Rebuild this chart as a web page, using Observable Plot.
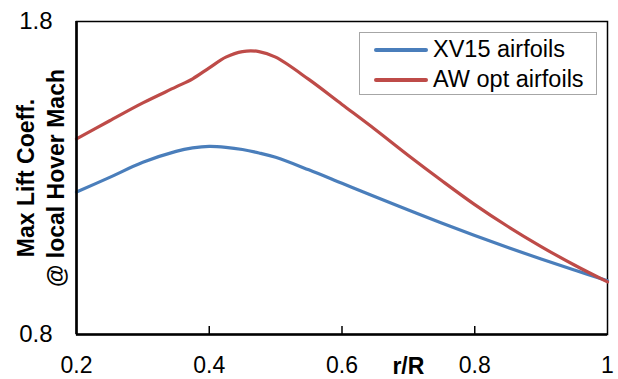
<!DOCTYPE html>
<html>
<head>
<meta charset="utf-8">
<script src="https://cdn.jsdelivr.net/npm/d3@7"></script>
<script src="https://cdn.jsdelivr.net/npm/@observablehq/plot@0.6"></script>
<style>
  html, body { margin: 0; padding: 0; background: #fff; }
  #wrap { position: relative; width: 618px; height: 379px; font-family: "Liberation Sans", Arial, Helvetica, sans-serif; }
  #legend { position: absolute; left: 359px; top: 32px; width: 236px; height: 61px; border: 1.5px solid #a6a6a6; background: #fff; }
  .row { position: absolute; left: 0; height: 30px; }
  .swatch { position: absolute; left: 14px; width: 54px; height: 3.5px; border-radius: 2px; }
  .lbl { position: absolute; left: 73px; font-size: 23.5px; color: #000; white-space: nowrap; line-height: 1; }
</style>
</head>
<body>
<div id="wrap"></div>
<script>
// ---- data ----
const rR = [0.2, 0.25, 0.3, 0.35, 0.375, 0.4, 0.425, 0.45, 0.475, 0.5, 0.55, 0.6, 0.65, 0.7, 0.75, 0.8, 0.85, 0.9, 0.95, 1.0];
const xv15 = [1.255, 1.302, 1.350, 1.385, 1.396, 1.401, 1.398, 1.391, 1.380, 1.366, 1.326, 1.283, 1.240, 1.198, 1.156, 1.116, 1.078, 1.041, 1.006, 0.972];
const awOpt = [1.425, 1.483, 1.540, 1.591, 1.617, 1.652, 1.686, 1.704, 1.704, 1.686, 1.615, 1.535, 1.455, 1.372, 1.292, 1.215, 1.145, 1.081, 1.022, 0.968];

const seriesNames = ["XV15 airfoils", "AW opt airfoils"];
const seriesColors = ["#4a7ebb", "#be4b48"];

const xTicks = [0.2, 0.4, 0.6, 0.8, 1.0];
const xTickLabels = ["0.2", "0.4", "0.6", "0.8", "1"];
const xInnerTicks = [0.4, 0.6, 0.8];
const yTicks = [0.8, 1.8];
const yTickLabels = ["0.8", "1.8"];
const xDomain = [0.2, 1.0];
const yDomain = [0.8, 1.8];
const yTitleLines = ["Max Lift Coeff.", "@ local Hover Mach"];
const xTitle = "r/R";
const xTitleAt = 0.7;

const blue = rR.map((x, i) => ({x, y: xv15[i]}));
const red = rR.map((x, i) => ({x, y: awOpt[i]}));

const chart = Plot.plot({
  width: 618,
  height: 379,
  marginLeft: 76,
  marginRight: 11,
  marginTop: 21,
  marginBottom: 45,
  style: {fontFamily: '"Liberation Sans", Arial, Helvetica, sans-serif', background: "#fff", color: "#000", overflow: "visible"},
  x: {domain: xDomain},
  y: {domain: yDomain},
  marks: [
    Plot.frame({stroke: "#000", strokeWidth: 1.5}),
    Plot.line(blue, {x: "x", y: "y", stroke: seriesColors[0], strokeWidth: 3.2, curve: "catmull-rom"}),
    Plot.line(red, {x: "x", y: "y", stroke: seriesColors[1], strokeWidth: 3.2, curve: "catmull-rom"}),
    Plot.ruleX([xDomain[0]], {stroke: "#000", strokeWidth: 2.6}),
    Plot.ruleY([yDomain[0]], {stroke: "#000", strokeWidth: 2.6}),
    Plot.axisX({ticks: xInnerTicks, tickSize: 8, dy: -8, fill: "none", stroke: "#000", strokeWidth: 1.5, label: null}),
    Plot.axisX({ticks: xTicks, tickSize: 0, tickPadding: 22, tickFormat: (d, i) => xTickLabels[i], fontSize: 23, fill: "#000", label: null}),
    Plot.axisY({ticks: yTicks, tickSize: 0, tickPadding: 24, tickFormat: (d, i) => yTickLabels[i], fontSize: 24, fill: "#000", label: null}),
    Plot.text([yTitleLines[0]], {frameAnchor: "left", rotate: -90, dx: -43, text: d => d, textAnchor: "middle", lineAnchor: "bottom", fontSize: 23, fontWeight: "bold", fill: "#000"}),
    Plot.text([yTitleLines[1]], {frameAnchor: "left", rotate: -90, dx: -13, text: d => d, textAnchor: "middle", lineAnchor: "bottom", fontSize: 23, fontWeight: "bold", fill: "#000"}),
    Plot.text([xTitle], {x: () => xTitleAt, frameAnchor: "bottom", dy: 39, text: d => d, textAnchor: "middle", lineAnchor: "bottom", fontSize: 23, fontWeight: "bold", fill: "#000"})
  ]
});

const wrap = document.getElementById("wrap");
wrap.appendChild(chart);

const legend = document.createElement("div");
legend.id = "legend";
seriesNames.forEach((name, i) => {
  const row = document.createElement("div");
  row.className = "row";
  row.style.top = (1.5 + i * 30) + "px";
  const sw = document.createElement("div");
  sw.className = "swatch";
  sw.style.background = seriesColors[i];
  sw.style.top = "13.5px";
  const lb = document.createElement("div");
  lb.className = "lbl";
  lb.style.top = "3px";
  lb.textContent = name;
  row.appendChild(sw);
  row.appendChild(lb);
  legend.appendChild(row);
});
wrap.appendChild(legend);
</script>
</body>
</html>
